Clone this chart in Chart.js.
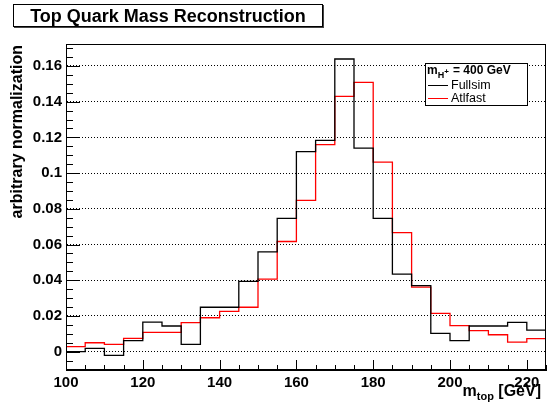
<!DOCTYPE html>
<html>
<head>
<meta charset="utf-8">
<script src="https://cdn.jsdelivr.net/npm/chart.js@4.4.1/dist/chart.umd.min.js"></script>
<style>
    html, body { margin: 0; padding: 0; background: #fff; }
    #wrap { width: 551px; height: 411px; }
</style>
</head>
<body>
<div id="wrap"><canvas id="massChart" width="551" height="411"></canvas></div>
<script>
// bin edges (GeV), 5 GeV wide
const binEdges = [100, 105, 110, 115, 120, 125, 130, 135, 140, 145, 150, 155, 160,
                  165, 170, 175, 180, 185, 190, 195, 200, 205, 210, 215, 220, 225]

// per-bin contents
const fullsim = [0.0000, 0.0019, -0.0021, 0.0062, 0.0166, 0.0144, 0.0041, 0.0249, 0.0249,
                 0.0394, 0.0559, 0.0746, 0.1120, 0.1183, 0.1639, 0.1140, 0.0746, 0.0434,
                 0.0370, 0.0103, 0.0062, 0.0144, 0.0144, 0.0164, 0.0121]
const atlfast = [0.0028, 0.0050, 0.0041, 0.0075, 0.0108, 0.0108, 0.0163, 0.0190, 0.0226,
                 0.0249, 0.0406, 0.0617, 0.0847, 0.1159, 0.1430, 0.1508, 0.1062, 0.0667,
                 0.0362, 0.0215, 0.0146, 0.0118, 0.0095, 0.0054, 0.0073]

const seriesLabels = ['Fullsim', 'Atlfast']
const seriesColors = ['#000000', '#ff0000']
const xRange = [100, 225]
const yRange = [-0.01025, 0.1723]
const xStep = 20
const yStep = 0.02

const FONT = '"Liberation Sans", Arial, Helvetica, sans-serif'

// histogram as step points: left edges + closing point at the last upper edge
function histPoints(values) {
    const pts = values.map((v, i) => ({ x: binEdges[i], y: v }))
    pts.push({ x: binEdges[binEdges.length - 1], y: values[values.length - 1] })
    return pts
}

// ROOT-ish decorations: frame, inward ticks, title box, legend, axis titles
const rootStyle = {
    id: 'rootStyle',
    beforeDraw(chart) {
        const ctx = chart.ctx
        ctx.save()
        ctx.fillStyle = '#fff'
        ctx.fillRect(0, 0, chart.width, chart.height)
        ctx.restore()
    },
    afterDraw(chart) {
        const ctx = chart.ctx
        const a = chart.chartArea
        const xs = chart.scales.x
        const ys = chart.scales.y
        ctx.save()
        ctx.strokeStyle = '#000'
        ctx.lineWidth = 1

        // frame
        ctx.strokeRect(Math.round(a.left) + 0.5, Math.round(a.top) + 0.5,
                       Math.round(a.right - a.left) - 1, Math.round(a.bottom - a.top) - 1)

        // y ticks: major every yStep, minor every yStep/4
        ctx.beginPath()
        for (let k = Math.ceil(ys.min / (yStep / 4)); k * yStep / 4 <= ys.max; k++) {
            const v = k * yStep / 4
            const py = Math.round(ys.getPixelForValue(v)) + 0.5
            const len = (k % 4 === 0) ? 14 : 7
            ctx.moveTo(a.left, py)
            ctx.lineTo(a.left + len, py)
        }
        // x ticks: major every xStep, minor every 5
        for (let v = xs.min; v <= xs.max; v += 5) {
            const px = Math.round(xs.getPixelForValue(v)) + 0.5
            const len = ((v - xs.min) % xStep === 0) ? 10 : 5
            ctx.moveTo(px, a.bottom)
            ctx.lineTo(px, a.bottom - len)
        }
        ctx.stroke()

        // title box
        ctx.fillStyle = '#fff'
        ctx.fillRect(13, 4, 310, 23)
        ctx.strokeStyle = '#000'
        ctx.strokeRect(13.5, 4.5, 309, 22)
        ctx.beginPath()
        ctx.moveTo(323.5, 5); ctx.lineTo(323.5, 28)
        ctx.moveTo(14, 27.5); ctx.lineTo(324, 27.5)
        ctx.strokeStyle = '#444'
        ctx.stroke()
        ctx.fillStyle = '#000'
        ctx.font = 'bold 18px ' + FONT
        ctx.textAlign = 'center'
        ctx.textBaseline = 'middle'
        ctx.fillText('Top Quark Mass Reconstruction', 168, 17)

        // legend
        const lx = 425, ly = 63, lw = 102, lh = 42
        ctx.fillStyle = '#fff'
        ctx.fillRect(lx, ly, lw, lh)
        ctx.strokeStyle = '#000'
        ctx.strokeRect(lx + 0.5, ly + 0.5, lw, lh)
        ctx.fillStyle = '#000'
        ctx.textAlign = 'left'
        ctx.textBaseline = 'alphabetic'
        let hx = 427
        ctx.font = 'bold 12px ' + FONT
        ctx.fillText('m', hx, 74)
        hx += ctx.measureText('m').width
        ctx.font = 'bold 9px ' + FONT
        ctx.fillText('H', hx, 78)
        hx += ctx.measureText('H').width
        ctx.font = 'bold 8px ' + FONT
        ctx.fillText('+', hx, 74)
        ctx.font = 'bold 12px ' + FONT
        ctx.fillText('= 400 GeV', 453, 74)

        ctx.font = '12.5px ' + FONT
        ctx.textBaseline = 'middle'
        chart.data.datasets.forEach((ds, i) => {
            const ry = 85 + i * 13
            ctx.strokeStyle = seriesColors[i]
            ctx.lineWidth = 1
            ctx.beginPath()
            ctx.moveTo(428, ry + 0.5)
            ctx.lineTo(448, ry + 0.5)
            ctx.stroke()
            ctx.fillStyle = '#000'
            ctx.fillText(ds.label, 451, ry + 1)
        })

        // y axis title
        ctx.save()
        ctx.translate(18, 45)
        ctx.rotate(-Math.PI / 2)
        ctx.font = 'bold 16px ' + FONT
        ctx.textAlign = 'right'
        ctx.textBaseline = 'middle'
        ctx.fillStyle = '#000'
        ctx.fillText('arbitrary normalization', 0, 0)
        ctx.restore()

        // x axis title: m_top [GeV], right aligned
        ctx.fillStyle = '#000'
        ctx.textAlign = 'left'
        ctx.textBaseline = 'alphabetic'
        ctx.font = 'bold 16px ' + FONT
        const wM = ctx.measureText('m').width
        const wG = ctx.measureText(' [GeV]').width
        ctx.font = 'bold 11px ' + FONT
        const wT = ctx.measureText('top').width
        let tx = 541 - (wM + wT + wG)
        ctx.font = 'bold 16px ' + FONT
        ctx.fillText('m', tx, 396)
        tx += wM
        ctx.font = 'bold 11px ' + FONT
        ctx.fillText('top', tx, 400)
        tx += wT
        ctx.font = 'bold 16px ' + FONT
        ctx.fillText(' [GeV]', tx, 396)

        ctx.restore()
    }
}

new Chart(document.getElementById('massChart'), {
    type: 'line',
    data: {
        datasets: [
            {
                label: seriesLabels[0],
                data: histPoints(fullsim),
                borderColor: seriesColors[0],
                borderWidth: 1.3,
                stepped: true,
                pointRadius: 0,
                fill: false,
            },
            {
                label: seriesLabels[1],
                data: histPoints(atlfast),
                borderColor: seriesColors[1],
                borderWidth: 1.3,
                stepped: true,
                pointRadius: 0,
                fill: false,
            },
        ]
    },
    options: {
        responsive: false,
        animation: false,
        layout: { padding: { top: 44, right: 5, left: 0, bottom: 0 } },
        plugins: {
            legend: { display: false },
            title: { display: false },
            tooltip: { enabled: false },
        },
        scales: {
            x: {
                type: 'linear',
                min: xRange[0],
                max: xRange[1],
                afterFit: (s) => { s.height = 41 },
                grid: { display: false, drawTicks: false },
                border: { display: true, color: '#000', width: 1 },
                ticks: {
                    stepSize: xStep,
                    includeBounds: false,
                    autoSkip: false,
                    maxRotation: 0,
                    padding: 4,
                    color: '#000',
                    font: { family: FONT, size: 15, weight: 'bold' },
                },
            },
            y: {
                type: 'linear',
                min: yRange[0],
                max: yRange[1],
                afterFit: (s) => { s.width = 66 },
                grid: { color: '#000', lineWidth: 1, drawTicks: false },
                border: { display: true, color: '#000', width: 1, dash: [1, 2] },
                ticks: {
                    stepSize: yStep,
                    includeBounds: false,
                    padding: 4,
                    color: '#000',
                    font: { family: FONT, size: 15, weight: 'bold' },
                    callback: (v) => String(+v.toFixed(3)),
                },
            },
        }
    },
    plugins: [rootStyle]
})
</script>
</body>
</html>
